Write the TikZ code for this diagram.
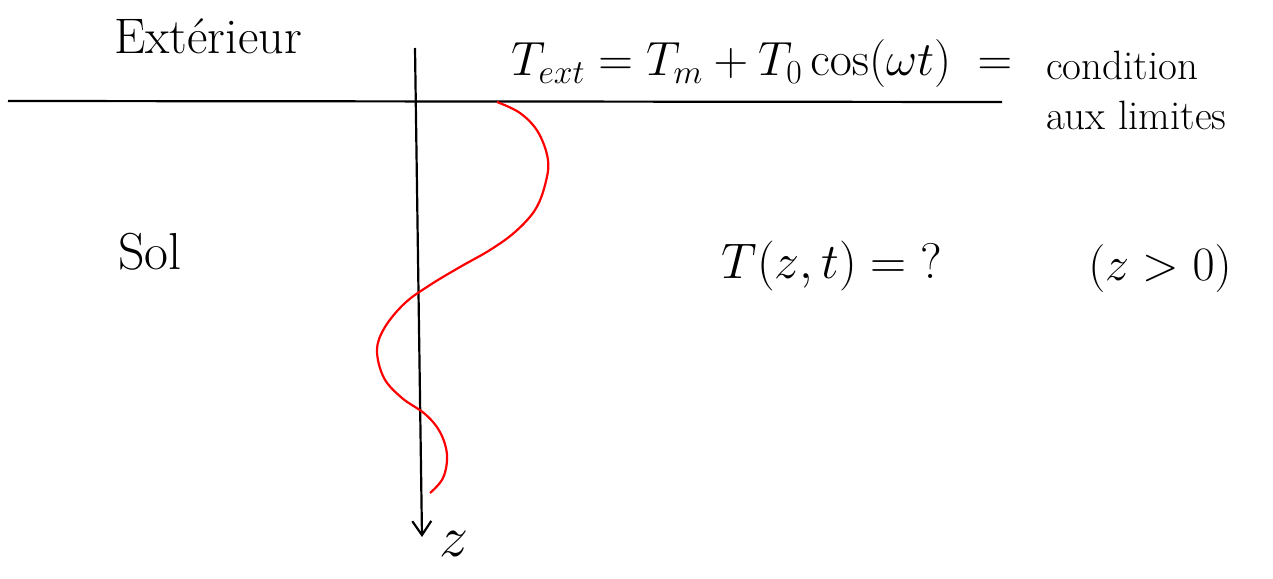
\RequirePackage{fix-cm}
\documentclass[tikz,border=0pt]{standalone}
\usepackage{amsmath, amssymb}
\usepackage{tikz}
\usetikzlibrary{arrows.meta}

\begin{document}
\begin{tikzpicture}[x=1pt,y=-1pt,line width=2.2pt,
  texte/.style={font=\fontsize{48}{56}\selectfont, inner sep=0pt},
  petit/.style={font=\fontsize{41}{50}\selectfont, inner sep=0pt, align=left}]
  \useasboundingbox (0,0) rectangle (1273,578);

  % surface du sol
  \coordinate (sg) at (8,101);
  \coordinate (sd) at (1002,102);
  \draw (sg) -- (sd);

  % axe z
  \coordinate (zhaut) at (415,48);
  \coordinate (zbas) at (422,537);
  \draw[-{Straight Barb[length=14pt,width=19pt]}] (zhaut) -- (zbas);
  \node[texte, font=\fontsize{58}{60}\selectfont, anchor=north west] (z) at (438,530) {$z$};

  % onde thermique
  \draw[red] plot[smooth, tension=0.6] coordinates {(497,102) (520,113) (538,132) (548,160)
    (545,185) (535,210) (515,232) (490,250) (460,267) (430,285) (405,303) (385,327)
    (377,350) (384,378) (402,398) (425,414) (440,432) (447,455) (443,478) (430,493)};

  % textes
  \node[texte, font=\fontsize{50}{56}\selectfont] (ext) at (208,36) {Ext\'erieur};
  \node[texte, anchor=west] (cl) at (510,64) {$T_{ext} = T_m + T_0 \cos(\omega t) \;=$};
  \node[petit, anchor=west] (cond) at (1045,90) {condition\\aux limites};
  \node[texte, font=\fontsize{52}{56}\selectfont] (sol) at (150,252) {Sol};
  \node[texte, font=\fontsize{50}{56}\selectfont] (inc) at (832,266) {$T(z,t) = \;?$};
  \node[texte] (pos) at (1160,268) {$(z > 0)$};
\end{tikzpicture}
\end{document}
